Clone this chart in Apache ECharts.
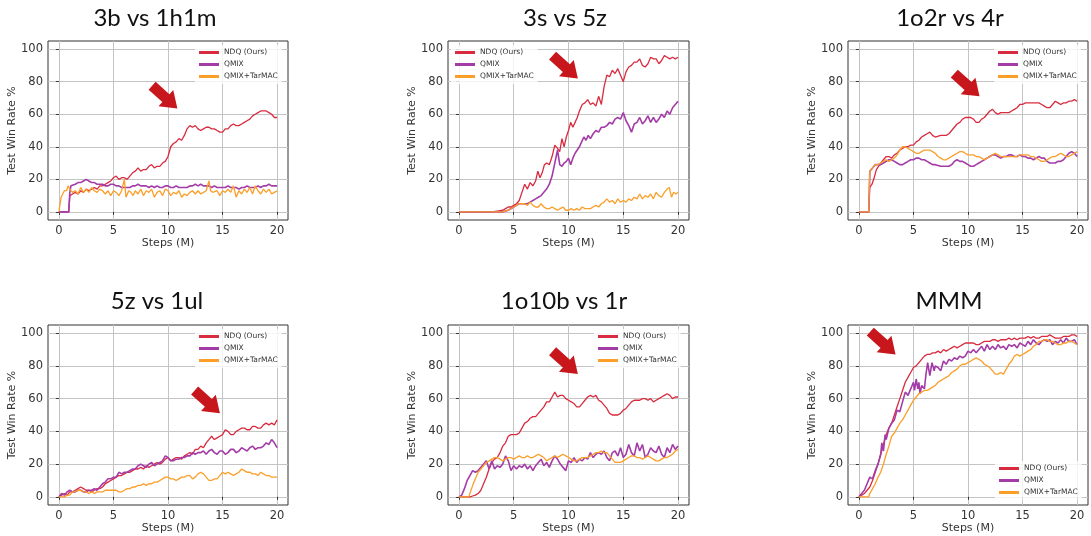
<!DOCTYPE html>
<html>
<head>
<meta charset="utf-8">
<script src="https://cdn.jsdelivr.net/npm/echarts@6/dist/echarts.min.js"></script>
<style>
  html, body { margin: 0; background: #fff; }
  #chart { width: 1091px; height: 536px; }
</style>
</head>
<body>
<div id="chart"></div>
<script>
// series names / colours
const seriesNames = ['NDQ (Ours)', 'QMIX', 'QMIX+TarMAC']
const seriesColors = ['#d92b3f', '#a43ca8', '#fb9e2a']
const xTicks = [0, 5, 10, 15, 20]
const yTicks = [0, 20, 40, 60, 80, 100]
const panelTitles = ['3b vs 1h1m', '3s vs 5z', '1o2r vs 4r', '5z vs 1ul', '1o10b vs 1r', 'MMM']

// [steps (M), test win rate %]
const ndq1 = [[0,0],[0.9,0],[1.0,10],[1.25,11],[1.5,12],[1.75,11],[2,13],[2.25,12],[2.5,14],[2.75,13],[3,14],[3.25,15],[3.5,14],[3.75,16],[4,16],[4.25,17],[4.5,18],[4.75,19],[5,21],[5.25,22],[5.5,20],[5.75,21],[6,21],[6.25,20],[6.5,22],[6.75,24],[7,25],[7.25,27],[7.5,25],[7.75,26],[8,26],[8.25,28],[8.5,29],[8.75,27],[9,28],[9.25,28],[9.5,30],[9.75,31],[10,34],[10.25,40],[10.5,42],[10.75,43],[11,45],[11.25,44],[11.5,47],[11.75,51],[12,53],[12.25,52],[12.5,53],[12.75,51],[13,50],[13.25,51],[13.5,52],[13.75,52],[14,51],[14.25,51],[14.5,50],[14.75,49],[15,49],[15.25,51],[15.5,51],[15.75,53],[16,54],[16.25,53],[16.5,53],[16.75,54],[17,55],[17.25,56],[17.5,57],[17.75,59],[18,60],[18.25,61],[18.5,62],[18.75,62],[19,62],[19.25,61],[19.5,60],[19.75,58],[20,58]]
const qmix1 = [[0,0],[0.9,0],[1.0,12],[1.1,16],[1.25,17],[1.5,17],[1.75,18],[2,18],[2.25,19],[2.5,20],[2.75,19],[3,18],[3.25,18],[3.5,17],[3.75,17],[4,17],[4.25,16],[4.5,16],[4.75,17],[5,17],[5.25,16],[5.5,16],[5.75,15],[6,15],[6.25,15],[6.5,15],[6.75,16],[7,16],[7.25,17],[7.5,16],[7.75,16],[8,16],[8.25,15],[8.5,16],[8.75,15],[9,16],[9.25,15],[9.5,15],[9.75,16],[10,16],[10.25,15],[10.5,15],[10.75,16],[11,15],[11.25,15],[11.5,15],[11.75,15],[12,16],[12.25,16],[12.5,17],[12.75,16],[13,17],[13.25,16],[13.5,16],[13.75,16],[14,15],[14.25,16],[14.5,15],[14.75,15],[15,15],[15.25,15],[15.5,16],[15.75,15],[16,15],[16.25,15],[16.5,14],[16.75,15],[17,15],[17.25,16],[17.5,15],[17.75,15],[18,15],[18.25,16],[18.5,15],[18.75,16],[19,16],[19.25,17],[19.5,16],[19.75,16],[20,16]]
const tarmac1 = [[0,0],[0.1,0],[0.2,9],[0.35,10],[0.5,13],[0.7,13],[0.85,16],[1.0,14],[1.25,12],[1.5,13],[1.75,11],[2,15],[2.25,12],[2.5,14],[2.75,12],[3,15],[3.25,13],[3.5,12],[3.75,14],[4,13],[4.25,11],[4.5,13],[4.75,10],[5,13],[5.25,12],[5.5,10],[5.75,13],[6,20],[6.15,9],[6.4,13],[6.6,12],[6.8,10],[7,13],[7.25,11],[7.5,14],[7.75,10],[8,13],[8.25,12],[8.5,14],[8.75,9],[9,12],[9.25,13],[9.5,10],[9.75,14],[10,13],[10.25,10],[10.5,12],[10.75,11],[11,13],[11.25,9],[11.5,11],[11.75,10],[12,12],[12.25,13],[12.5,11],[12.75,13],[13,11],[13.25,12],[13.5,13],[13.75,19],[13.9,13],[14.1,12],[14.25,11],[14.5,13],[14.75,10],[15,13],[15.25,12],[15.5,14],[15.75,12],[16,16],[16.25,9],[16.5,13],[16.75,11],[17,14],[17.25,12],[17.5,15],[17.75,11],[18,16],[18.25,13],[18.5,11],[18.75,14],[19,12],[19.25,14],[19.5,11],[19.75,12],[20,13]]

const ndq2 = [[0,0],[3,0],[3.5,0.5],[4,1],[4.25,2],[4.5,3],[4.75,3],[5,4],[5.25,5],[5.5,7],[5.75,12],[6,17],[6.25,14],[6.5,18],[6.75,16],[7,19],[7.2,25],[7.4,21],[7.6,24],[7.8,29],[8,30],[8.25,29],[8.5,34],[8.75,41],[9,39],[9.2,37],[9.4,45],[9.6,40],[9.8,46],[10,50],[10.2,55],[10.4,52],[10.6,55],[10.8,58],[11,62],[11.25,66],[11.5,67],[11.75,69],[12,66],[12.25,67],[12.5,65],[12.75,71],[13,66],[13.25,77],[13.5,84],[13.75,83],[14,87],[14.25,85],[14.5,88],[14.75,84],[15,80],[15.25,86],[15.5,89],[15.75,90],[16,92],[16.25,92],[16.5,94],[16.75,90],[17,89],[17.25,91],[17.5,95],[17.75,94],[18,94],[18.25,91],[18.5,93],[18.75,96],[19,95],[19.25,94],[19.5,95],[19.75,94],[20,95]]
const qmix2 = [[0,0],[4,0],[4.5,1],[5,3],[5.25,4],[5.5,5],[5.75,5],[6,5],[6.25,5],[6.5,6],[6.75,7],[7,8],[7.25,9],[7.5,10],[7.75,12],[8,14],[8.25,17],[8.5,22],[8.75,30],[9,38],[9.2,29],[9.4,28],[9.6,30],[9.8,31],[10,33],[10.2,29],[10.4,33],[10.6,36],[10.8,38],[11,40],[11.2,43],[11.4,46],[11.6,44],[11.8,47],[12,45],[12.25,48],[12.5,50],[12.75,49],[13,52],[13.25,52],[13.5,53],[13.75,55],[14,54],[14.25,57],[14.5,58],[14.75,57],[15,61],[15.25,56],[15.5,53],[15.75,49],[16,54],[16.25,55],[16.5,58],[16.75,54],[17,56],[17.25,59],[17.5,55],[17.75,58],[18,55],[18.25,57],[18.5,60],[18.75,58],[19,62],[19.25,60],[19.5,64],[19.75,66],[20,68]]
const tarmac2 = [[0,0],[4,0],[4.5,1],[5,3],[5.25,4],[5.5,5],[5.75,5],[6,5],[6.25,4],[6.5,6],[6.75,4],[7,3],[7.25,3],[7.5,5],[7.75,3],[8,2],[8.25,2],[8.5,3],[8.75,2],[9,1],[9.25,2],[9.5,3],[9.75,1],[10,1],[10.25,2],[10.5,1],[10.75,2],[11,1],[11.25,3],[11.5,2],[11.75,2],[12,2],[12.25,3],[12.5,4],[12.75,3],[13,5],[13.25,6],[13.5,8],[13.75,6],[14,7],[14.25,5],[14.5,8],[14.75,6],[15,7],[15.25,6],[15.5,8],[15.75,7],[16,9],[16.25,8],[16.5,11],[16.75,8],[17,10],[17.25,9],[17.5,11],[17.75,8],[18,12],[18.25,10],[18.5,9],[18.75,12],[19,14],[19.2,15],[19.4,9],[19.6,12],[19.8,11],[20,12]]

const ndq3 = [[0,0],[0.9,0],[1.0,15],[1.2,17],[1.4,21],[1.6,26],[1.8,28],[2,30],[2.25,32],[2.5,34],[2.75,34],[3,33],[3.25,35],[3.5,36],[3.75,38],[4,39],[4.25,40],[4.5,40],[4.75,41],[5,41],[5.25,43],[5.5,44],[5.75,46],[6,47],[6.25,48],[6.5,49],[6.75,47],[7,46],[7.5,47],[8,47],[8.25,48],[8.5,50],[8.75,52],[9,54],[9.25,55],[9.5,57],[9.75,58],[10,58],[10.25,58],[10.5,57],[10.75,55],[11,55],[11.25,57],[11.5,58],[11.75,60],[12,62],[12.25,63],[12.5,61],[12.75,60],[13,61],[13.25,61],[13.5,61],[13.75,61],[14,62],[14.25,63],[14.5,64],[14.75,66],[15,66],[15.25,67],[15.5,67],[16,67],[16.5,67],[16.75,66],[17,65],[17.25,64],[17.5,64],[17.75,66],[18,68],[18.25,67],[18.5,66],[18.75,67],[19,67],[19.25,68],[19.5,68],[19.75,69],[20,68]]
const qmix3 = [[0,0],[0.9,0],[1.0,25],[1.25,27],[1.5,29],[1.75,29],[2,29],[2.25,30],[2.5,31],[2.75,32],[3,32],[3.25,31],[3.5,30],[3.75,29],[4,29],[4.25,30],[4.5,31],[4.75,32],[5,32],[5.25,33],[5.5,33],[5.75,32],[6,32],[6.25,31],[6.5,30],[6.75,29],[7,29],[7.5,28],[8,28],[8.25,28],[8.5,29],[8.75,31],[9,32],[9.25,31],[9.5,31],[9.75,30],[10,29],[10.25,28],[10.5,28],[10.75,29],[11,30],[11.25,31],[11.5,32],[11.75,33],[12,34],[12.25,35],[12.5,35],[12.75,34],[13,33],[13.25,34],[13.5,34],[13.75,35],[14,35],[14.25,34],[14.5,34],[14.75,35],[15,34],[15.25,34],[15.5,33],[15.75,33],[16,32],[16.25,33],[16.5,34],[16.75,33],[17,33],[17.25,31],[17.5,30],[17.75,30],[18,30],[18.25,31],[18.5,31],[18.75,32],[19,34],[19.25,36],[19.5,37],[19.75,36],[20,34]]
const tarmac3 = [[0,0],[0.9,0],[1.0,25],[1.25,27],[1.5,29],[1.75,29],[2,30],[2.25,31],[2.5,32],[2.75,31],[3,32],[3.25,33],[3.5,35],[3.75,38],[4,40],[4.25,40],[4.5,39],[4.75,38],[5,37],[5.25,36],[5.5,36],[5.75,37],[6,38],[6.25,38],[6.5,38],[6.75,37],[7,36],[7.25,34],[7.5,33],[7.75,32],[8,32],[8.25,33],[8.5,34],[8.75,35],[9,36],[9.25,37],[9.5,37],[9.75,36],[10,35],[10.25,35],[10.5,35],[10.75,34],[11,34],[11.25,33],[11.5,32],[11.75,33],[12,34],[12.25,35],[12.5,36],[12.75,35],[13,34],[13.25,34],[13.5,34],[13.75,34],[14,34],[14.25,34],[14.5,34],[14.75,35],[15,35],[15.25,35],[15.5,35],[15.75,34],[16,34],[16.25,33],[16.5,32],[16.75,31],[17,31],[17.25,32],[17.5,33],[17.75,34],[18,34],[18.25,35],[18.5,36],[18.75,35],[19,34],[19.25,34],[19.5,35],[19.75,36],[20,37]]

const ndq4 = [[0,0],[0.25,1],[0.5,2],[0.75,1],[1,3],[1.25,3],[1.5,4],[1.75,5],[2,6],[2.25,5],[2.5,4],[2.75,4],[3,3],[3.25,4],[3.5,5],[3.75,5],[4,6],[4.25,8],[4.5,9],[4.75,10],[5,11],[5.25,12],[5.5,13],[5.75,13],[6,14],[6.25,15],[6.5,15],[6.75,16],[7,17],[7.25,17],[7.5,18],[7.75,17],[8,19],[8.25,18],[8.5,19],[8.75,20],[9,21],[9.25,20],[9.5,21],[9.75,23],[10,24],[10.25,22],[10.5,23],[10.75,24],[11,24],[11.25,23],[11.5,25],[11.75,26],[12,27],[12.25,26],[12.5,29],[12.75,29],[13,31],[13.25,30],[13.5,33],[13.75,35],[14,37],[14.25,35],[14.5,36],[14.75,37],[15,38],[15.25,41],[15.5,40],[15.75,38],[16,38],[16.25,40],[16.5,41],[16.75,42],[17,42],[17.25,41],[17.5,41],[17.75,43],[18,43],[18.25,42],[18.5,42],[18.75,44],[19,45],[19.25,44],[19.5,45],[19.75,44],[20,47]]
const qmix4 = [[0,0],[0.25,2],[0.5,1],[0.75,3],[1,4],[1.25,3],[1.5,3],[1.75,4],[2,4],[2.25,3],[2.5,3],[2.75,4],[3,4],[3.25,5],[3.5,4],[3.75,6],[4,8],[4.25,9],[4.5,11],[4.75,11],[5,12],[5.25,12],[5.5,15],[5.75,14],[6,15],[6.25,15],[6.5,16],[6.75,17],[7,17],[7.25,19],[7.5,20],[7.75,19],[8,18],[8.25,20],[8.5,21],[8.75,19],[9,20],[9.25,21],[9.5,22],[9.75,25],[10,24],[10.25,22],[10.5,22],[10.75,23],[11,23],[11.25,24],[11.5,24],[11.75,25],[12,25],[12.25,27],[12.5,26],[12.75,27],[13,27],[13.25,28],[13.5,26],[13.75,28],[14,29],[14.25,27],[14.5,26],[14.75,28],[15,28],[15.25,26],[15.5,27],[15.75,29],[16,29],[16.25,27],[16.5,28],[16.75,30],[17,29],[17.25,28],[17.5,30],[17.75,31],[18,29],[18.25,30],[18.5,30],[18.75,31],[19,33],[19.25,32],[19.5,35],[19.75,33],[20,30]]
const tarmac4 = [[0,0],[0.5,0],[0.75,1],[1,1],[1.25,3],[1.5,3],[1.75,4],[2,4],[2.25,3],[2.5,3],[2.75,2],[3,3],[3.25,2],[3.5,3],[3.75,3],[4,3],[4.25,4],[4.5,4],[4.75,4],[5,4],[5.25,4],[5.5,3],[5.75,3],[6,4],[6.25,5],[6.5,5],[6.75,6],[7,6],[7.25,7],[7.5,7],[7.75,8],[8,7],[8.25,8],[8.5,8],[8.75,9],[9,9],[9.25,10],[9.5,11],[9.75,12],[10,12],[10.25,11],[10.5,11],[10.75,10],[11,11],[11.25,12],[11.5,12],[11.75,13],[12,13],[12.25,11],[12.5,12],[12.75,14],[13,15],[13.25,14],[13.5,12],[13.75,10],[14,10],[14.25,11],[14.5,11],[14.75,13],[15,15],[15.25,14],[15.5,15],[15.75,14],[16,13],[16.25,14],[16.5,15],[16.75,17],[17,16],[17.25,15],[17.5,15],[17.75,14],[18,14],[18.25,13],[18.5,15],[18.75,14],[19,13],[19.25,13],[19.5,12],[19.75,12],[20,12]]

const ndq5 = [[0,0],[0.5,0],[1,0],[1.25,0.5],[1.5,1],[1.75,2],[2,4],[2.25,8],[2.5,12],[2.75,17],[3,21],[3.25,23],[3.5,24],[3.75,27],[4,31],[4.25,33],[4.5,37],[4.75,38],[5,38],[5.25,38],[5.5,39],[5.75,42],[6,45],[6.25,46],[6.5,48],[6.75,49],[7,49],[7.25,51],[7.5,53],[7.75,55],[8,58],[8.25,58],[8.5,61],[8.75,64],[9,61],[9.25,62],[9.5,62],[9.75,60],[10,59],[10.25,58],[10.5,57],[10.75,55],[11,55],[11.25,57],[11.5,59],[11.75,61],[12,62],[12.25,61],[12.5,62],[12.75,59],[13,58],[13.25,56],[13.5,54],[13.75,51],[14,50],[14.25,50],[14.5,50],[14.75,51],[15,53],[15.25,54],[15.5,56],[15.75,58],[16,59],[16.25,59],[16.5,59],[16.75,60],[17,60],[17.25,59],[17.5,60],[17.75,58],[18,59],[18.25,60],[18.5,61],[18.75,62],[19,63],[19.25,62],[19.5,60],[19.75,61],[20,61]]
const qmix5 = [[0,0],[0.25,1],[0.5,5],[0.75,10],[1,13],[1.25,16],[1.5,15],[1.75,16],[2,18],[2.25,20],[2.5,22],[2.75,17],[3,22],[3.25,17],[3.5,19],[3.75,18],[4,20],[4.25,25],[4.5,22],[4.75,16],[5,19],[5.25,17],[5.5,19],[5.75,18],[6,20],[6.25,17],[6.5,19],[6.75,16],[7,19],[7.25,21],[7.5,23],[7.75,19],[8,21],[8.25,18],[8.5,22],[8.75,25],[9,23],[9.25,20],[9.5,18],[9.75,16],[10,22],[10.25,21],[10.5,24],[10.75,21],[11,23],[11.25,22],[11.5,24],[11.75,23],[12,27],[12.25,24],[12.5,26],[12.75,27],[13,26],[13.25,28],[13.5,24],[13.75,22],[14,27],[14.25,28],[14.5,25],[14.75,30],[15,24],[15.25,26],[15.5,32],[15.75,27],[16,25],[16.25,33],[16.5,28],[16.75,32],[17,24],[17.25,26],[17.5,30],[17.75,28],[18,27],[18.25,31],[18.5,26],[18.75,24],[19,30],[19.25,27],[19.5,32],[19.75,29],[20,31]]
const tarmac5 = [[0,0],[0.5,0],[0.9,0],[1.0,2],[1.25,7],[1.5,11],[1.75,15],[2,17],[2.25,19],[2.5,21],[2.75,22],[3,23],[3.25,24],[3.5,24],[3.75,23],[4,22],[4.25,23],[4.5,24],[4.75,24],[5,23],[5.25,24],[5.5,25],[5.75,24],[6,24],[6.25,25],[6.5,24],[6.75,24],[7,25],[7.25,26],[7.5,25],[7.75,24],[8,22],[8.25,23],[8.5,24],[8.75,25],[9,24],[9.25,25],[9.5,26],[9.75,25],[10,24],[10.25,23],[10.5,22],[10.75,22],[11,23],[11.25,24],[11.5,24],[11.75,24],[12,25],[12.25,26],[12.5,27],[12.75,27],[13,28],[13.25,27],[13.5,27],[13.75,25],[14,23],[14.25,21],[14.5,21],[14.75,21],[15,22],[15.25,23],[15.5,24],[15.75,25],[16,25],[16.25,24],[16.5,24],[16.75,23],[17,24],[17.25,25],[17.5,24],[17.75,23],[18,22],[18.25,22],[18.5,23],[18.75,24],[19,24],[19.25,25],[19.5,26],[19.75,28],[20,29]]

const ndq6 = [[0,0],[0.25,1],[0.5,2],[0.75,4],[1,6],[1.25,10],[1.5,15],[1.75,20],[2,26],[2.25,32],[2.5,38],[2.75,42],[3,45],[3.25,50],[3.5,55],[3.75,60],[4,65],[4.25,70],[4.5,73],[4.75,76],[5,79],[5.25,80],[5.5,82],[5.75,84],[6,86],[6.25,87],[6.5,87],[6.75,88],[7,88],[7.25,89],[7.5,88],[7.75,90],[8,89],[8.25,90],[8.5,91],[8.75,92],[9,91],[9.25,92],[9.5,93],[9.75,94],[10,94],[10.25,94],[10.5,94],[10.75,93],[11,93],[11.25,94],[11.5,95],[11.75,95],[12,95],[12.25,96],[12.5,96],[12.75,95],[13,96],[13.25,96],[13.5,96],[13.75,97],[14,96],[14.25,97],[14.5,96],[14.75,97],[15,97],[15.25,97],[15.5,98],[15.75,97],[16,98],[16.25,97],[16.5,97],[16.75,98],[17,98],[17.25,98],[17.5,99],[17.75,98],[18,97],[18.25,97],[18.5,97],[18.75,98],[19,98],[19.25,98],[19.5,99],[19.75,99],[20,98]]
const qmix6 = [[0,0],[0.25,2],[0.5,4],[0.75,8],[1,12],[1.25,11],[1.5,16],[1.75,20],[2,26],[2.1,33],[2.25,28],[2.4,38],[2.5,35],[2.75,42],[3,45],[3.25,47],[3.5,53],[3.75,52],[4,58],[4.25,64],[4.5,62],[4.75,66],[5,70],[5.1,65],[5.25,72],[5.4,66],[5.5,70],[5.6,63],[5.75,68],[6,66],[6.15,75],[6.3,82],[6.5,74],[6.7,82],[6.9,77],[7,80],[7.25,79],[7.5,77],[7.75,83],[8,81],[8.25,84],[8.5,83],[8.75,85],[9,84],[9.25,86],[9.5,85],[9.75,86],[10,89],[10.25,88],[10.5,90],[10.75,88],[11,90],[11.25,92],[11.5,89],[11.75,93],[12,90],[12.25,92],[12.5,90],[12.75,93],[13,91],[13.25,92],[13.5,90],[13.75,93],[14,92],[14.25,93],[14.5,91],[14.75,94],[15,93],[15.25,92],[15.5,95],[15.75,93],[16,96],[16.25,94],[16.5,93],[16.75,95],[17,96],[17.25,95],[17.5,96],[17.75,93],[18,95],[18.25,94],[18.5,96],[18.75,94],[19,97],[19.25,95],[19.5,95],[19.75,96],[20,93]]
const tarmac6 = [[0,0],[0.5,0],[0.9,0],[1,2],[1.25,5],[1.5,8],[1.75,12],[2,15],[2.25,20],[2.5,26],[2.75,31],[3,37],[3.25,39],[3.5,42],[3.75,45],[4,47],[4.25,50],[4.5,53],[4.75,56],[5,59],[5.25,61],[5.5,63],[5.75,64],[6,65],[6.25,65],[6.5,66],[6.75,67],[7,68],[7.25,70],[7.5,71],[7.75,72],[8,73],[8.25,74],[8.5,76],[8.75,77],[9,78],[9.25,80],[9.5,81],[9.75,81],[10,82],[10.25,83],[10.5,84],[10.75,85],[11,84],[11.25,83],[11.5,81],[11.75,80],[12,79],[12.25,77],[12.5,75],[12.75,75],[13,76],[13.25,75],[13.5,78],[13.75,81],[14,83],[14.25,86],[14.5,87],[14.75,86],[15,87],[15.25,88],[15.5,89],[15.75,90],[16,92],[16.25,93],[16.5,95],[16.75,95],[17,96],[17.25,96],[17.5,95],[17.75,95],[18,94],[18.25,93],[18.5,93],[18.75,94],[19,94],[19.25,95],[19.5,95],[19.75,94],[20,93]]

// red arrow annotations, in data coords of each panel
const arrowAt = [[9.7, 70.5], [9.7, 89], [9.9, 78], [13.6, 58], [9.7, 82], [2.2, 94]]

const panelData = [
  [ndq1, qmix1, tarmac1],
  [ndq2, qmix2, tarmac2],
  [ndq3, qmix3, tarmac3],
  [ndq4, qmix4, tarmac4],
  [ndq5, qmix5, tarmac5],
  [ndq6, qmix6, tarmac6]
]

// layout of each subplot frame (px)
const frames = [
  { left: 48, top: 41, width: 240, height: 179 },
  { left: 448, top: 41, width: 241, height: 179 },
  { left: 848, top: 41, width: 240, height: 179 },
  { left: 48, top: 325, width: 240, height: 180 },
  { left: 448, top: 325, width: 241, height: 180 },
  { left: 848, top: 325, width: 240, height: 180 }
]
const titlePos = [[155, 6], [565, 6], [950, 6], [157, 289], [564, 289], [949, 289]]
const legendPos = [[195, 45], [451, 45], [994, 45], [195, 329], [594, 329], [995, 461]]

const ARROW = 'path://M0,6 L18,6 L18,0 L33,11.5 L18,23 L18,17 L0,17 Z'
const axisFont = { fontFamily: 'DejaVu Sans', color: '#333' }

const chart = echarts.init(document.getElementById('chart'), null, { renderer: 'canvas' })

const option = {
  animation: false,
  backgroundColor: '#fff',
  title: [],
  legend: [],
  grid: [],
  xAxis: [],
  yAxis: [],
  series: []
}

frames.forEach((f, i) => {
  option.grid.push(Object.assign({
    show: true, borderColor: '#333', borderWidth: 1, backgroundColor: 'transparent'
  }, f))
  option.title.push({
    text: panelTitles[i],
    left: titlePos[i][0],
    top: titlePos[i][1],
    textAlign: 'center',
    padding: 0,
    textStyle: { fontFamily: 'Lato', fontSize: 24, fontWeight: 'normal', color: '#111' }
  })
  option.legend.push({
    data: seriesNames,
    orient: 'vertical',
    left: legendPos[i][0],
    top: legendPos[i][1],
    icon: 'rect',
    itemWidth: 20,
    itemHeight: 3,
    itemGap: 3,
    padding: [3, 4],
    backgroundColor: 'rgba(255,255,255,0.8)',
    selectedMode: false,
    textStyle: { fontFamily: 'DejaVu Sans', fontSize: 7.5, color: '#333', lineHeight: 9 }
  })
  option.xAxis.push({
    type: 'value', gridIndex: i, min: -1, max: 21,
    name: 'Steps (M)', nameLocation: 'middle', nameGap: 15,
    nameTextStyle: Object.assign({ fontSize: 11 }, axisFont),
    axisLine: { show: false },
    axisTick: { show: true, length: 3, customValues: xTicks, lineStyle: { color: '#333' } },
    axisLabel: { customValues: xTicks, margin: 5, fontSize: 11.5, ...axisFont },
    splitLine: { show: true, lineStyle: { color: '#c4c4c4', width: 1 } }
  })
  option.yAxis.push({
    type: 'value', gridIndex: i, min: -5, max: 105,
    name: 'Test Win Rate %', nameLocation: 'middle', nameGap: 27,
    nameTextStyle: Object.assign({ fontSize: 11 }, axisFont),
    axisLine: { show: false },
    axisTick: { show: true, length: 3, customValues: yTicks, lineStyle: { color: '#333' } },
    axisLabel: { customValues: yTicks, margin: 5, fontSize: 11.5, ...axisFont },
    splitLine: { show: true, lineStyle: { color: '#c4c4c4', width: 1 } }
  })
  panelData[i].forEach((data, k) => {
    const s = {
      name: seriesNames[k],
      type: 'line',
      xAxisIndex: i,
      yAxisIndex: i,
      data: data,
      symbol: 'none',
      color: seriesColors[k],
      lineStyle: { width: k === 1 ? 1.6 : 1.3, color: seriesColors[k] },
      z: 2 + k
    }
    if (k === 0) {
      s.markPoint = {
        symbol: ARROW,
        symbolSize: [34, 22],
        symbolRotate: -42,
        silent: true,
        label: { show: false },
        itemStyle: { color: '#c8161d' },
        data: [{ coord: arrowAt[i] }]
      }
    }
    option.series.push(s)
  })
})

chart.setOption(option)
</script>
</body>
</html>
